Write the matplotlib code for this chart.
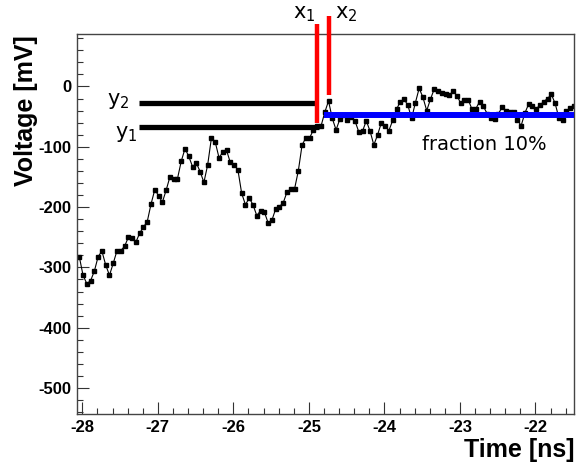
import numpy as np
import matplotlib
matplotlib.use("Agg")
import matplotlib.pyplot as plt
from matplotlib.ticker import MultipleLocator

plt.rcParams['axes.unicode_minus'] = False

# sampled waveform: uniform sampling, voltage in mV
t0 = -28.04
dt = 0.05
voltage = [-282, -313, -327, -322, -306, -282, -273, -296, -313, -293,
           -272, -272, -265, -250, -252, -258, -243, -233, -224, -195,
           -171, -181, -192, -172, -150, -153, -153, -124, -103, -116,
           -133, -127, -141, -159, -130, -85, -92, -118, -109, -106,
           -126, -130, -138, -177, -196, -185, -196, -214, -206, -208,
           -226, -222, -203, -199, -193, -175, -170, -170, -140, -97,
           -85, -85, -72, -65, -66, -43, -24, -53, -72, -54,
           -47, -55, -50, -57, -75, -74, -57, -74, -97, -80,
           -60, -66, -73, -56, -38, -25, -21, -31, -53, -27,
           -3, -18, -40, -21, -4, -8, -11, -13, -14, -8,
           -15, -28, -23, -22, -38, -37, -25, -33, -45, -52,
           -54, -45, -34, -41, -42, -43, -55, -65, -44, -29,
           -32, -37, -31, -25, -20, -13, -28, -52, -55, -41,
           -36, -32]
times = t0 + dt * np.arange(len(voltage))

# crossing markers
x1, x2 = -24.89, -24.74
y1, y2 = -67, -27
marker_start = -27.25
baseline = -47
baseline_start = -24.80
fraction = 10

fig = plt.figure(figsize=(5.76, 4.62), dpi=100)
ax = fig.add_axes([77 / 576, 1 - 414 / 462, 497 / 576, 380 / 462])

ax.plot(times, voltage, color='black', lw=0.8, marker='s', ms=3, zorder=2)

ax.plot([marker_start, x1 + 0.03], [y1, y1], color='black', lw=3.8,
        solid_capstyle='butt', zorder=3)
ax.plot([marker_start, x1], [y2, y2], color='black', lw=3.8,
        solid_capstyle='butt', zorder=3)
ax.plot([x1, x1], [-60, 103], color='red', lw=3.2, solid_capstyle='butt',
        clip_on=False, zorder=4)
ax.plot([x2, x2], [-14, 117], color='red', lw=3.2, solid_capstyle='butt',
        clip_on=False, zorder=4)
ax.plot([baseline_start, times[-1] + 0.1], [baseline, baseline], color='blue',
        lw=4.3, solid_capstyle='butt', zorder=3)

txt = dict(fontsize=15, family='DejaVu Sans', color='black')
ax.text(-25.215, 113, r'$\mathregular{x_1}$', **txt)
ax.text(-24.66, 113, r'$\mathregular{x_2}$', **txt)
ax.text(-27.67, -31, r'$\mathregular{y_2}$', **txt)
ax.text(-27.57, -85, r'$\mathregular{y_1}$', **txt)
ax.text(-23.5, -105, 'fraction %d%%' % fraction, fontsize=14,
        family='DejaVu Sans')

ax.set_xlim(-28.07, -21.49)
ax.set_ylim(-543, 87)

ax.xaxis.set_major_locator(MultipleLocator(1))
ax.xaxis.set_minor_locator(MultipleLocator(0.2))
ax.yaxis.set_major_locator(MultipleLocator(100))
ax.yaxis.set_minor_locator(MultipleLocator(20))
ax.tick_params(which='both', direction='in', top=False, right=False,
               color='#333333', width=0.8)
ax.tick_params(which='major', length=8.6)
ax.tick_params(which='minor', length=4.3)
ax.tick_params(axis='x', pad=4)
ax.tick_params(axis='y', pad=4)
for lab in ax.get_xticklabels() + ax.get_yticklabels():
    lab.set_family('Liberation Sans')
    lab.set_fontweight('bold')
    lab.set_fontsize(12)
for sp in ax.spines.values():
    sp.set_color('#444444')
    sp.set_linewidth(1.0)

fig.text(26 / 576, 1 - 35 / 462, 'Voltage [mV]', rotation=90, ha='center',
         va='top', family='Liberation Sans', fontweight='bold', fontsize=18)
fig.text(574 / 576, 1 - 457 / 462, 'Time [ns]', ha='right', va='baseline',
         family='Liberation Sans', fontweight='bold', fontsize=18)

fig.savefig('out.png', dpi=100)
